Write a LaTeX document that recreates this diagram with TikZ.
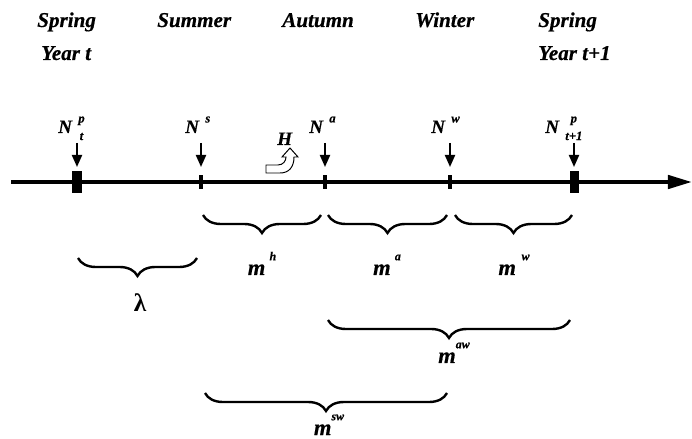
\documentclass[tikz,border=0pt]{standalone}
\usepackage{fontspec}
\setmainfont{Liberation Serif}[BoldItalicFeatures={FakeBold=0.5}]
\usetikzlibrary{arrows.meta,decorations.pathreplacing}

\newcommand\bisize[1]{\fontsize{#1}{#1}\selectfont\bfseries\itshape}
% N with a stacked super- and subscript
\newcommand\Nscr[2]{\hbox{N\kern4.5pt%
  \setbox0=\hbox{\bisize{9pt}#1}%
  \setbox2=\hbox{\bisize{9pt}#2}%
  \dimen0=\wd0 \ifdim\wd2>\dimen0 \dimen0=\wd2 \fi
  \raise7.5pt\hbox to\dimen0{\hss\box0\hss}%
  \kern-\dimen0
  \lower5pt\hbox to\dimen0{\hss\box2\hss}}}
% m with a raised superscript
\newcommand\mscr[2][3pt]{m\kern#1\raisebox{10.5pt}{\bisize{8.5pt}#2}}

\begin{document}
\begin{tikzpicture}[x=0.025cm,y=-0.025cm,
    hd/.style={font=\bisize{15pt},anchor=base west,inner sep=0},
    nl/.style={font=\bisize{13.5pt},anchor=base west,inner sep=0},
    ml/.style={font=\bisize{16pt},anchor=base,inner sep=0},
    bigtick/.style={fill=black,inner sep=0,minimum width=0.225cm,minimum height=0.55cm},
    smalltick/.style={fill=black,inner sep=0,minimum width=0.1cm,minimum height=0.35cm},
    dn/.style={-{Triangle[length=0.3cm,width=0.25cm]},line width=1.4pt},
    brc/.style={decorate,decoration={brace,mirror,amplitude=0.45cm},line width=1.7pt}]
    \useasboundingbox (0,0) rectangle (692,439);
    % seasons
    \node[hd] (spr0) at (37,27) {Spring};
    \node[hd] (yr0) at (41,60) {Year t};
    \node[hd] (sum) at (157,27) {Summer};
    \node[hd] (aut) at (282,27) {Autumn};
    \node[hd] (win) at (415,27) {Winter};
    \node[hd] (spr1) at (538,27) {Spring};
    \node[hd] (yr1) at (538,60) {Year t+1};
    % time axis
    \draw[-{Triangle[length=0.6cm,width=0.33cm]},line width=2.8pt] (11,182) -- (692,182);
    \node[bigtick] (t0) at (77,182) {};
    \node[smalltick] (t1) at (201,182) {};
    \node[smalltick] (t2) at (325,182) {};
    \node[smalltick] (t3) at (450,182) {};
    \node[bigtick] (t4) at (574,182) {};
    \foreach \x/\n in {77/0,201/1,325/2,450/3,574/4} {
        \coordinate (a\n) at (\x,143);
        \coordinate (e\n) at (\x,167);
        \draw[dn] (a\n) -- (e\n);
    }
    \node[nl] (Np0) at (58,133) {\Nscr{p}{t}};
    \node[nl] (Ns) at (185,133) {\Nscr{s}{}};
    \node[nl] (Na) at (309,133) {\Nscr{a}{}};
    \node[nl] (Nw) at (431,133) {\Nscr{w}{}};
    \node[nl] (Np1) at (545,133) {\Nscr{p}{t+1}};
    % harvest
    \node[nl] (H) at (277,145) {H};
    \draw[fill=white,line width=0.7pt,line join=miter] (266,165) -- (278,165)
        .. controls (283,165) and (286,161) .. (286,157) -- (282,157) -- (290,148)
        -- (298,157) -- (294,157) .. controls (294,167) and (289,173) .. (280,173)
        -- (266,173) -- cycle;
    % braces
    \draw[brc] (78,258) -- (197,258);
    \draw[brc] (203,215) -- (321,215);
    \draw[brc] (328,215) -- (447,215);
    \draw[brc] (455,215) -- (572,215);
    \draw[brc] (328,320) -- (570,320);
    \draw[brc] (205,393) -- (447,393);
    \node[font=\fontsize{18pt}{18pt}\selectfont\bfseries,anchor=base,inner sep=0] (lam) at (140,312) {λ};
    \node[ml] (mh) at (262,275) {\mscr{h}};
    \node[ml] (ma) at (387,275) {\mscr{a}};
    \node[ml] (mw) at (514,275) {\mscr[4pt]{w}};
    \node[ml] (maw) at (454,363) {\mscr[0pt]{aw}};
    \node[ml] (msw) at (329,435) {\mscr[0pt]{sw}};
\end{tikzpicture}
\end{document}
